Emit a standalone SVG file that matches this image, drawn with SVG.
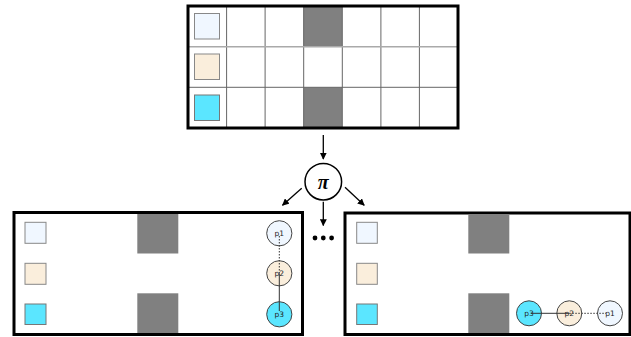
<svg xmlns="http://www.w3.org/2000/svg" width="631" height="337" viewBox="0 0 631 337">
<defs>
<style>
.frame{fill:#fff;stroke:#000;stroke-width:3}
.grid{stroke:#666;stroke-width:1;fill:none}
.wall{fill:#808080}
.c1{fill:#F0F7FF;stroke:#888;stroke-width:1}
.c2{fill:#FAEEDC;stroke:#888;stroke-width:1}
.c3{fill:#5BE6FF;stroke:#777;stroke-width:1}
.node1{fill:#F0F7FF;stroke:#444;stroke-width:1}
.node2{fill:#FAEEDC;stroke:#444;stroke-width:1}
.node3{fill:#5BE6FF;stroke:#444;stroke-width:1}
.lbl{font-family:"DejaVu Sans",sans-serif;font-size:7.5px;fill:#222;text-anchor:middle;dominant-baseline:central}
.arrow{stroke:#000;stroke-width:1.3;fill:none;marker-end:url(#ah)}
.dot{stroke:#333;stroke-width:1;stroke-dasharray:1.5,1.5}
.solid{stroke:#333;stroke-width:1}
</style>
<marker id="ah" viewBox="0 0 10 10" refX="9" refY="5" markerWidth="7" markerHeight="7" orient="auto" markerUnits="userSpaceOnUse">
<path d="M0,0 L10,5 L0,10 z" fill="#000"/>
</marker>
</defs>

<g id="top-grid">
<rect x="188" y="6" width="270" height="122" fill="#fff"/>
<rect class="wall" x="303.5" y="6" width="38.6" height="40.7"/>
<rect class="wall" x="303.5" y="87.3" width="38.6" height="40.7"/>
<g class="grid">
<line x1="226.6" y1="6" x2="226.6" y2="128"/>
<line x1="265.1" y1="6" x2="265.1" y2="128"/>
<line x1="303.7" y1="6" x2="303.7" y2="128"/>
<line x1="342.3" y1="6" x2="342.3" y2="128"/>
<line x1="380.9" y1="6" x2="380.9" y2="128"/>
<line x1="419.4" y1="6" x2="419.4" y2="128"/>
<line x1="188" y1="46.7" x2="458" y2="46.7" stroke="#aaa" stroke-width="1.5"/>
<line x1="188" y1="87.3" x2="458" y2="87.3"/>
</g>
<rect class="c1" x="194.5" y="13.5" width="25" height="25.5"/>
<rect class="c2" x="194.5" y="54" width="25" height="25.5"/>
<rect class="c3" x="194.5" y="95" width="25" height="25.5"/>
<rect x="188" y="6" width="270" height="122" fill="none" stroke="#000" stroke-width="3"/>
</g>

<g id="pi">
<circle cx="323.3" cy="181.7" r="18.3" fill="#fff" stroke="#000" stroke-width="1.5"/>
<text x="323.3" y="182" font-family="'Liberation Serif',serif" font-style="italic" font-weight="bold" font-size="20" text-anchor="middle" dominant-baseline="central">π</text>
</g>

<g id="left-panel">
<rect class="frame" x="14" y="212.5" width="288.5" height="122"/>
<rect class="wall" x="137.3" y="214" width="41" height="39.5"/>
<rect class="wall" x="137.3" y="293.3" width="41" height="39.7"/>
<rect class="c1" x="25" y="222.3" width="21" height="21"/>
<rect class="c2" x="25" y="263.3" width="21" height="21"/>
<rect class="c3" x="25" y="304" width="21" height="20.5"/>
</g>

<g id="right-panel">
<rect class="frame" x="345" y="213" width="285" height="121.5"/>
<rect class="wall" x="468.3" y="214.5" width="41" height="39"/>
<rect class="wall" x="468.3" y="293.3" width="41" height="39.7"/>
<rect class="c1" x="356.7" y="222.3" width="20.6" height="21"/>
<rect class="c2" x="356.7" y="263.3" width="20.6" height="21"/>
<rect class="c3" x="356.7" y="304" width="20.6" height="20.5"/>
</g>

<g id="ellipsis">
<circle cx="315" cy="238" r="2.4" fill="#000"/>
<circle cx="323.3" cy="238" r="2.4" fill="#000"/>
<circle cx="331.6" cy="238" r="2.4" fill="#000"/>
</g>

<g id="node-left-p1"><circle class="node1" cx="279.3" cy="233.3" r="12.6"/><text class="lbl" x="279.3" y="233.3">p1</text></g>
<g id="node-left-p2"><circle class="node2" cx="279.3" cy="273.3" r="12.6"/><text class="lbl" x="279.3" y="273.3">p2</text></g>
<g id="node-left-p3"><circle class="node3" cx="279.3" cy="314.3" r="12.6"/><text class="lbl" x="279.3" y="314.3">p3</text></g>

<g id="node-right-p3"><circle class="node3" cx="529" cy="313.3" r="12.5"/><text class="lbl" x="529" y="313.3">p3</text></g>
<g id="node-right-p2"><circle class="node2" cx="569.3" cy="313.3" r="12.5"/><text class="lbl" x="569.3" y="313.3">p2</text></g>
<g id="node-right-p1"><circle class="node1" cx="610" cy="313.3" r="12.5"/><text class="lbl" x="610" y="313.3">p1</text></g>

<g id="connectors">
<line class="arrow" x1="323.3" y1="135" x2="323.3" y2="159"/>
<line class="arrow" x1="301.7" y1="188.3" x2="282.5" y2="205.2"/>
<line class="arrow" x1="345" y1="187.3" x2="364.2" y2="205.2"/>
<line class="arrow" x1="323.3" y1="201.7" x2="323.3" y2="225.5"/>
<line class="dot" x1="279.3" y1="236" x2="279.3" y2="273.3"/>
<line class="solid" x1="279.3" y1="273.3" x2="279.3" y2="311"/>
<line class="solid" x1="531" y1="313.3" x2="569.3" y2="313.3"/>
<line class="dot" x1="569.3" y1="313.3" x2="606" y2="313.3"/>
</g>
</svg>
